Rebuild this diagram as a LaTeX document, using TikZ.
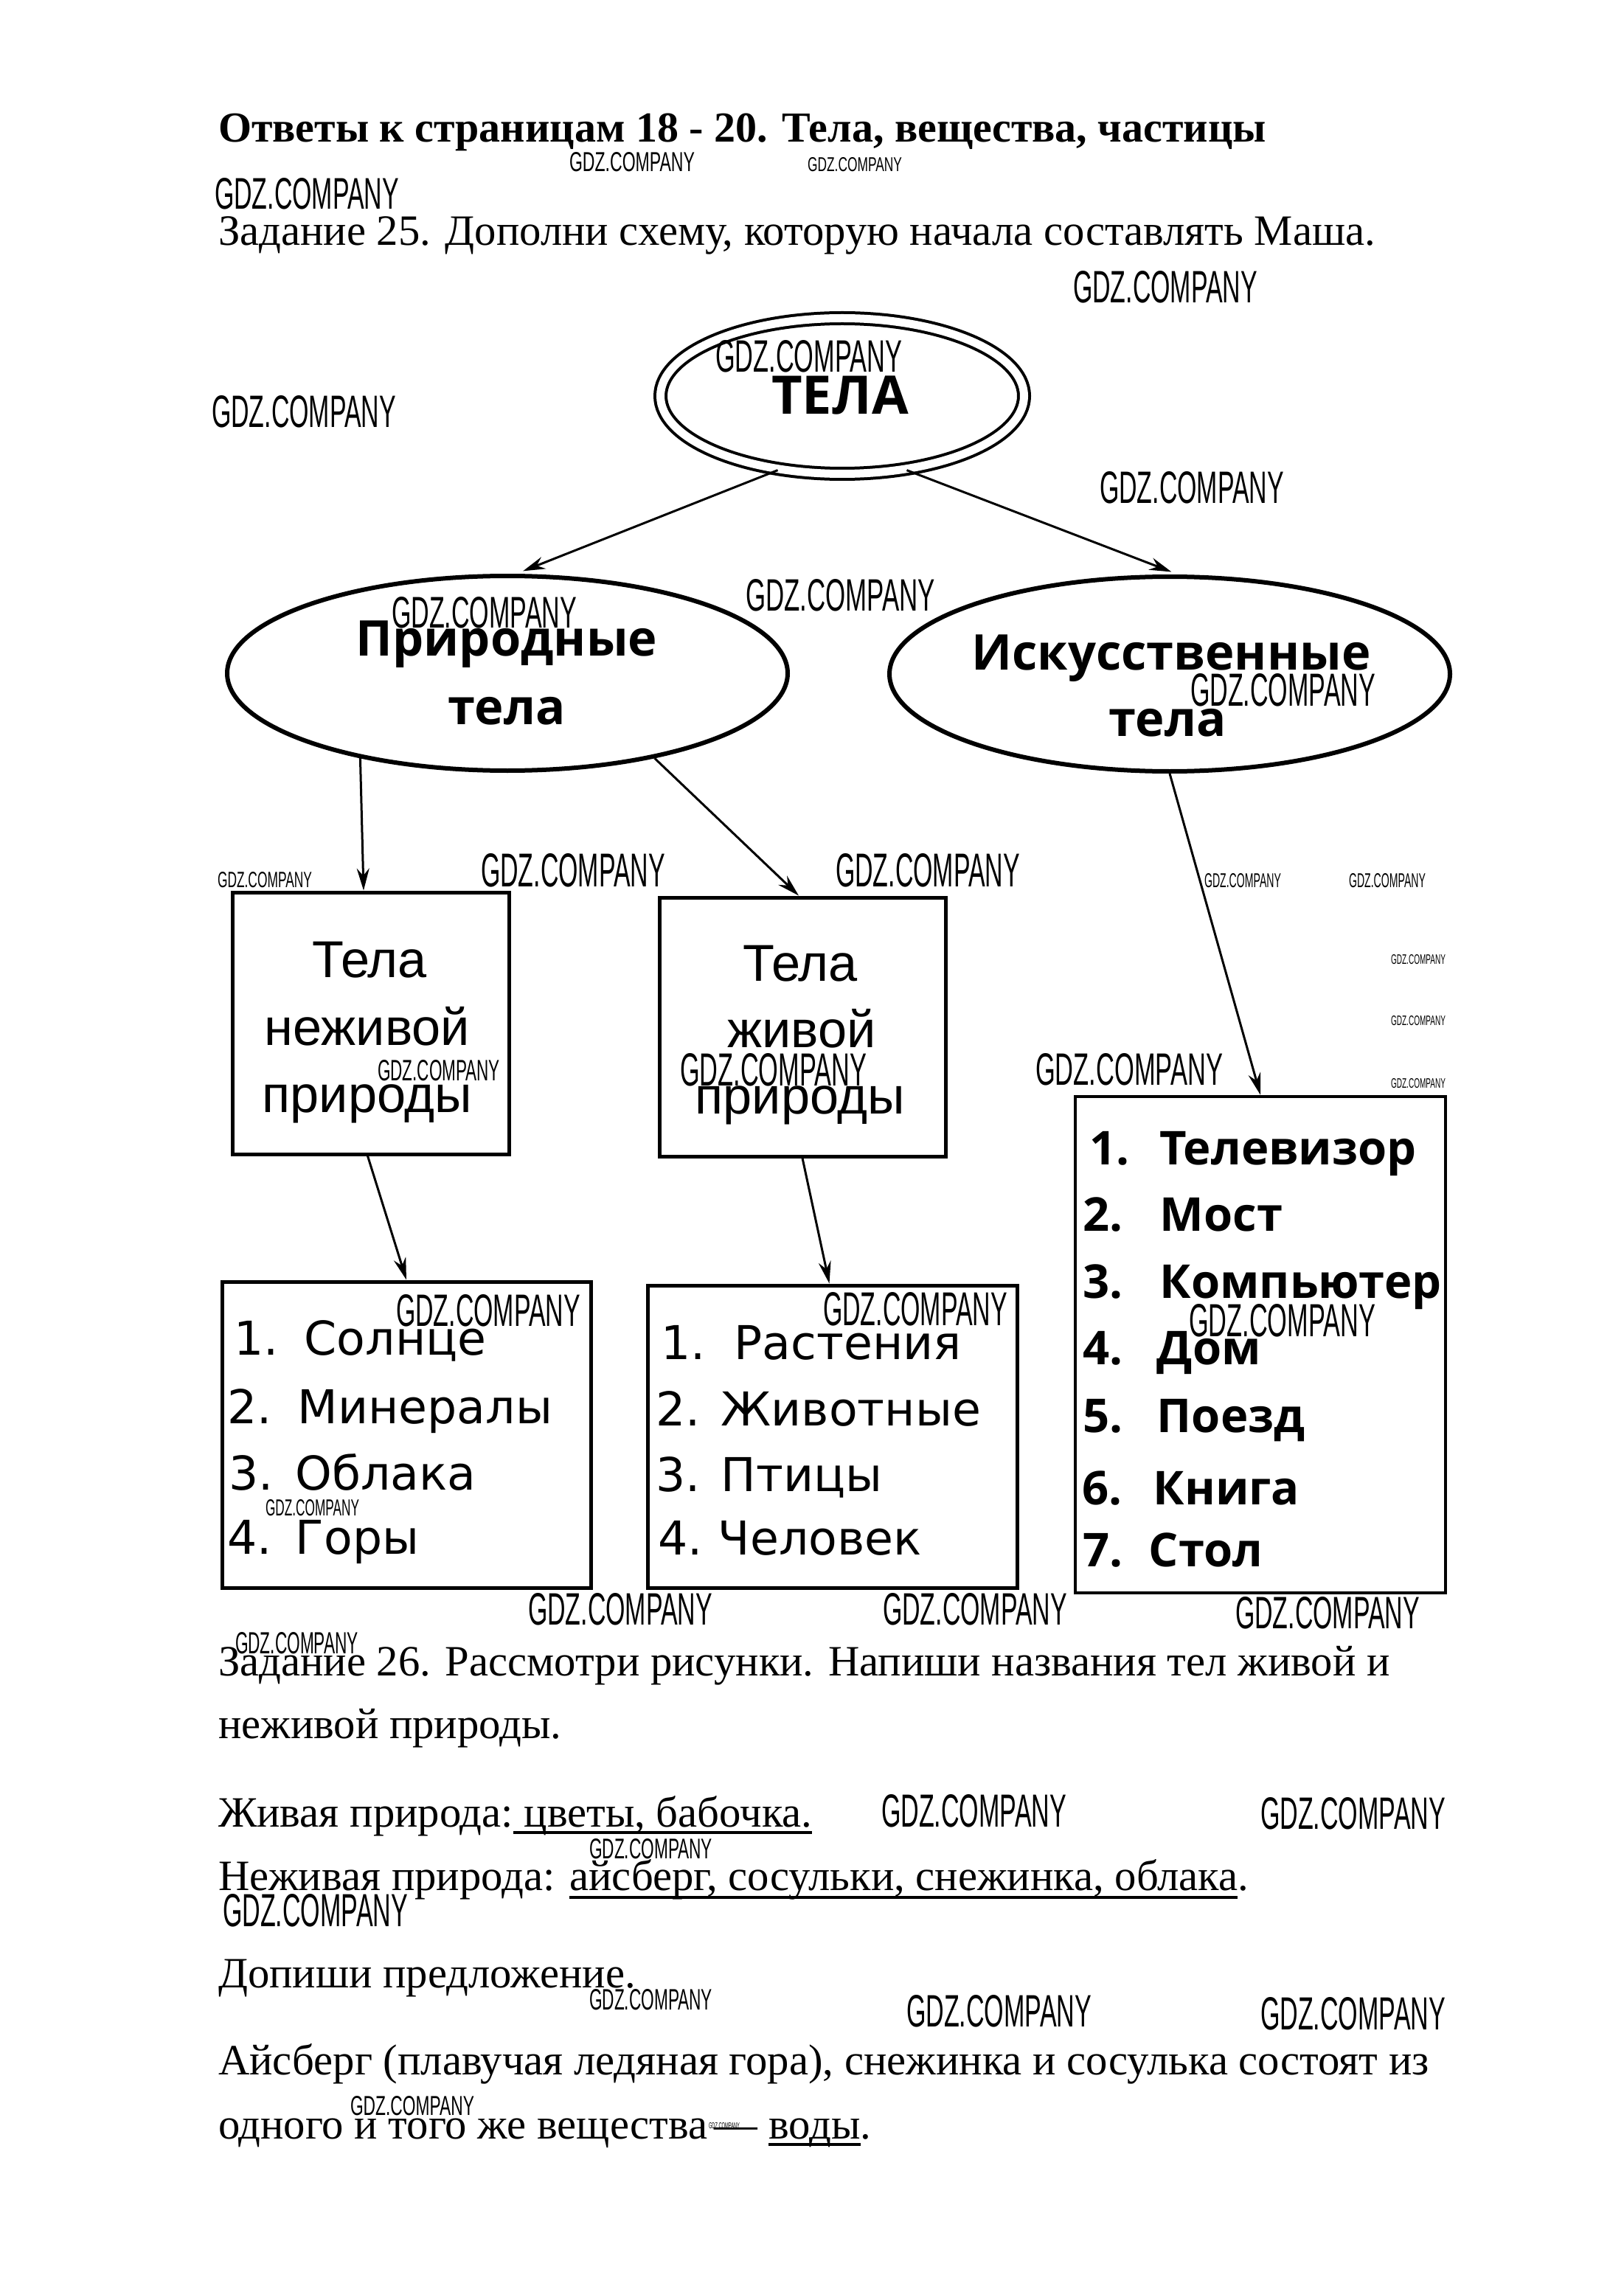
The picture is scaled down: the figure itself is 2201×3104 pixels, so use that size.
\documentclass[tikz,border=0pt]{standalone}
\usepackage{fontspec}
\setmainfont{Liberation Serif}
\newfontfamily\ellf{Open Sans}
\newfontfamily\boxf{Liberation Sans}
\newfontfamily\listf{DejaVu Sans}
\newfontfamily\wmf{Liberation Sans}
\usetikzlibrary{shapes.geometric,arrows.meta,calc}
\newlength\pxu \setlength\pxu{0.1mm}
\newlength\wmw \newlength\wmh
\newcommand\wm[5]{\setlength\wmw{#4\pxu}\setlength\wmh{#5\pxu}%
  \node[anchor=north west,inner sep=0pt,outer sep=0pt] (#1) at (#2,#3) {\resizebox{\wmw}{\wmh}{\wmf GDZ.COMPANY}};}
\newcommand\ulx[2]{\setbox0\hbox{#2}\rlap{\rule[-#1\pxu]{\wd0}{4\pxu}}\box0}
\tikzset{
  txt/.style={anchor=base west, inner sep=0pt, outer sep=0pt, font=\fontsize{16.7pt}{20pt}\selectfont},
  ttl/.style={anchor=base west, inner sep=0pt, outer sep=0pt, font=\fontsize{16.5pt}{20pt}\selectfont\bfseries},
  ellbox/.style={ellipse, draw, line width=0.6mm, inner sep=0pt, minimum width=76mm, minimum height=26.4mm},
  topell/.style={ellipse, draw, double, line width=0.4mm, double distance=1.1mm, inner sep=0pt, minimum width=49.3mm, minimum height=21.1mm},
  elltxt/.style={anchor=base, inner sep=0pt, font=\ellf\bfseries\fontsize{19pt}{22pt}\selectfont},
  rectbox/.style={rectangle, draw, line width=0.5mm, inner sep=0pt},
  boxtxt/.style={anchor=base, inner sep=0pt, font=\boxf\fontsize{20pt}{24pt}\selectfont},
  listtxt/.style={anchor=base west, inner sep=0pt, font=\listf\fontsize{18pt}{22pt}\selectfont},
  blisttxt/.style={anchor=base west, inner sep=0pt, font=\ellf\bfseries\fontsize{18pt}{22pt}\selectfont},
  arr/.style={-{Stealth[length=3mm,width=1.7mm,inset=1mm]}, line width=0.3mm},
}
\begin{document}
\begin{tikzpicture}[x=0.1mm,y=-0.1mm]
\fill[white] (0,0) rectangle (2201,3104);
\useasboundingbox (0,0) rectangle (2201,3104);

% page text
\node[ttl] (title) at (296,193) {Ответы к страницам 18 - 20. Тела, вещества, частицы};
\node[txt] (t25) at (296,333) {Задание 25. Дополни схему, которую начала составлять Маша.};

% ellipses
\node[topell] (tela) at (1142,537) {};
\node[elltxt, font=\ellf\bfseries\fontsize{20.5pt}{24pt}\selectfont] (telatxt) at (1139,562) {ТЕЛА};
\node[ellbox] (prir) at (688,913) {};
\node[elltxt] (prir1) at (687,890) {Природные};
\node[elltxt] (prir2) at (687,982) {тела};
\node[ellbox] (artif) at (1586,914) {};
\node[elltxt] (art1) at (1588,908) {Искусственные};
\node[elltxt] (art2) at (1583,998) {тела};

% boxes
\node[rectbox, minimum width=37.5mm, minimum height=35.5mm] (box1) at (502.5,1387.5) {};
\node[boxtxt] (b1a) at (501,1325) {Тела};
\node[boxtxt] (b1b) at (498,1417) {неживой};
\node[boxtxt] (b1c) at (498,1508) {природы};
\node[rectbox, minimum width=38.8mm, minimum height=35.1mm] (box2) at (1088,1392.5) {};
\node[boxtxt] (b2a) at (1085,1330) {Тела};
\node[boxtxt] (b2b) at (1087,1420) {живой};
\node[boxtxt] (b2c) at (1085,1510) {природы};

\node[rectbox, line width=0.45mm, minimum width=50.2mm, minimum height=67.3mm] (box3) at (1709,1823.5) {};
\node[blisttxt] (n31) at (1477,1579) {1.};
\node[blisttxt] (i31) at (1572,1579) {Телевизор};
\node[blisttxt] (n32) at (1468,1669) {2.};
\node[blisttxt] (i32) at (1572,1669) {Мост};
\node[blisttxt] (n33) at (1468,1760) {3.};
\node[blisttxt] (i33) at (1572,1760) {Компьютер};
\node[blisttxt] (n34) at (1468,1850) {4.};
\node[blisttxt] (i34) at (1568,1850) {Дом};
\node[blisttxt] (n35) at (1468,1942) {5.};
\node[blisttxt] (i35) at (1568,1942) {Поезд};
\node[blisttxt] (n36) at (1467,2040) {6.};
\node[blisttxt] (i36) at (1563,2040) {Книга};
\node[blisttxt] (n37) at (1468,2124) {7.};
\node[blisttxt] (i37) at (1557,2124) {Стол};

\node[rectbox, minimum width=50mm, minimum height=41.5mm] (box4) at (551,1945.5) {};
\node[listtxt] (n41) at (317,1837) {1.};
\node[listtxt] (i41) at (412,1837) {Солнце};
\node[listtxt] (n42) at (308,1930) {2.};
\node[listtxt] (i42) at (403,1930) {Минералы};
\node[listtxt] (n43) at (310,2020) {3.};
\node[listtxt] (i43) at (400,2020) {Облака};
\node[listtxt] (n44) at (308,2107) {4.};
\node[listtxt] (i44) at (400,2107) {Горы};

\node[rectbox, minimum width=50.1mm, minimum height=41mm] (box5) at (1128.5,1948) {};
\node[listtxt] (n51) at (896,1843) {1.};
\node[listtxt] (i51) at (995,1843) {Растения};
\node[listtxt] (n52) at (889,1933) {2.};
\node[listtxt] (i52) at (977,1933) {Животные};
\node[listtxt] (n53) at (889,2022) {3.};
\node[listtxt] (i53) at (977,2022) {Птицы};
\node[listtxt] (n54) at (892,2108) {4.};
\node[listtxt] (i54) at (973,2108) {Человек};

% connectors
\draw[arr, shorten >=1mm] (tela.229) -- (prir.85);
\draw[arr, shorten >=1mm] (tela.311) -- (artif.85);
\draw[arr] (prir.210) -- ($(box1.north)+(-9.5,0)$);
\draw[arr] (prir.330) -- ($(box2.north)+(-5,0)$);
\draw[arr] (artif.south) -- (box3.north);
\draw[arr] ($(box1.south)+(-4,0)$) -- (box4.north);
\draw[arr] (box2.south) -- ($(box5.north)+(-4,0)$);

% lower text
\node[txt] (t26a) at (296,2272) {Задание 26. Рассмотри рисунки. Напиши названия тел живой и};
\node[txt] (t26b) at (296,2357) {неживой природы.};
\node[txt] (live) at (296,2477) {Живая природа:\ulx{10}{ цветы, бабочка.}};
\node[txt] (nonlive) at (296,2563) {Неживая природа: \ulx{12}{айсберг, сосульки, снежинка, облака}.};
\node[txt] (finish) at (296,2695) {Допиши предложение.};
\node[txt] (ice1) at (296,2813) {Айсберг (плавучая ледяная гора), снежинка и сосулька состоят из};
\node[txt] (ice2) at (296,2900) {одного и того же вещества\,— \ulx{10}{воды}.};

% watermarks
\wm{w1}{772}{207}{170}{26}
\wm{w2}{1095}{214}{128}{19}
\wm{w3}{291}{242}{250}{42}
\wm{w4}{1455}{368}{250}{43}
\wm{w5}{970}{462}{253}{43}
\wm{w6}{287}{537}{250}{43}
\wm{w7}{1491}{640}{250}{43}
\wm{w8}{531}{810}{251}{42}
\wm{w9}{1011}{785}{257}{43}
\wm{w10}{1614}{913}{251}{44}
\wm{w11}{295}{1182}{128}{21}
\wm{w12}{652}{1157}{250}{45}
\wm{w13}{1133}{1157}{250}{45}
\wm{w14}{1633}{1184}{104}{19}
\wm{w15}{1829}{1184}{104}{19}
\wm{w16}{1886}{1294}{74}{13}
\wm{w17}{1886}{1377}{74}{13}
\wm{w18}{1886}{1462}{74}{13}
\wm{w19}{512}{1437}{166}{28}
\wm{w20}{922}{1428}{253}{44}
\wm{w21}{1404}{1428}{254}{43}
\wm{w22}{537}{1755}{250}{43}
\wm{w23}{1116}{1752}{250}{45}
\wm{w24}{1612}{1768}{253}{44}
\wm{w25}{360}{2033}{127}{22}
\wm{w26}{716}{2160}{250}{43}
\wm{w27}{1197}{2160}{250}{43}
\wm{w28}{1675}{2165}{250}{43}
\wm{w29}{319}{2213}{167}{29}
\wm{w30}{1195}{2433}{251}{44}
\wm{w31}{1709}{2437}{251}{43}
\wm{w32}{799}{2493}{167}{27}
\wm{w33}{302}{2568}{251}{44}
\wm{w34}{799}{2697}{167}{28}
\wm{w35}{1229}{2705}{251}{43}
\wm{w36}{1709}{2708}{251}{44}
\wm{w37}{475}{2842}{168}{26}
\wm{w38}{961}{2878}{42}{8}
\end{tikzpicture}
\end{document}
